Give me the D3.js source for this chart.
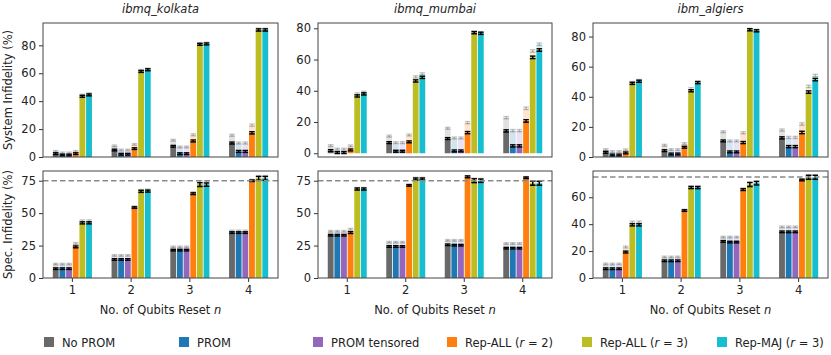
<!DOCTYPE html>
<html>
<head>
<meta charset="utf-8">
<script src="https://cdn.jsdelivr.net/npm/d3@7"></script>
<style>
  body { margin: 0; background: #fff; }
  text { font-family: "DejaVu Sans", sans-serif; }
</style>
</head>
<body>
<div id="chart"></div>
<script>
// categories / series
const groups = ["1", "2", "3", "4"];
const series = ["No PROM", "PROM", "PROM tensored", "Rep-ALL (r = 2)", "Rep-ALL (r = 3)", "Rep-MAJ (r = 3)"];
const colors = ["#696969", "#1f77b4", "#9467bd", "#ff7f0e", "#bcbd22", "#17becf"];
const devices = ["ibmq_kolkata", "ibmq_mumbai", "ibm_algiers"];

// system infidelity (%), one row per n, one value per series
const kolkataSys = [[2.4, 1.4, 1.4, 2.4, 43.5, 44.5], [5, 2, 2, 6, 61.3, 62.5], [7.7, 2.4, 2.4, 11.5, 80.7, 81], [10, 4, 4, 17.3, 91, 91]];
const kolkataSysHi = [[4, 2.9, 2.9, 4, 44.3, 45.3], [8, 5, 5, 9, 62, 63], [12, 7.2, 7.2, 15.9, 81.3, 81.5], [15.6, 10, 10, 22.8, 91.5, 91.5]];
const mumbaiSys = [[1.7, 0.4, 0.4, 2.1, 36.7, 38], [6.8, 1.3, 1.3, 7.3, 46.3, 48.6], [9.4, 1.5, 1.5, 13.2, 77.2, 76.8], [14.3, 4.7, 4.7, 20.7, 61.4, 66.1]];
const mumbaiSysHi = [[4.9, 2.6, 2.6, 4.7, 38, 39], [11, 6.8, 6.8, 11.7, 48.9, 50.8], [16, 9.8, 9.8, 19.6, 77.6, 77.2], [22.8, 14.5, 14.5, 28.8, 65.5, 69.8]];
const algiersSys = [[3.1, 1.3, 1.3, 2.7, 48.9, 50.3], [4.2, 2, 2, 6.5, 44, 49.4], [10.7, 3.4, 3.4, 9.6, 84.5, 83.8], [12.7, 6.9, 6.9, 16.3, 43.1, 51.4]];
const algiersSysHi = [[4.9, 3.6, 3.6, 4.7, 49.5, 50.8], [7.8, 4.9, 4.9, 8.9, 45.4, 49.8], [16.8, 10.7, 10.7, 16.1, 84.8, 84.2], [17.9, 13, 13, 21.9, 46.9, 54.1]];

// spectator infidelity (%)
const kolkataSpec = [[7.2, 7.2, 7.2, 24, 42.5, 42.5], [14.3, 14.3, 14.3, 54.3, 66.8, 67], [21.5, 21.5, 21.5, 65, 72, 72], [35, 35, 35, 75, 76.8, 76.8]];
const kolkataSpecHi = [[10.7, 10.7, 10.7, 26.6, 44, 44], [17.4, 17.4, 17.4, 55, 67.5, 67.8], [24, 24, 24, 65.8, 73.5, 73.5], [36.3, 36.3, 36.3, 75.4, 77.5, 77.5]];
const mumbaiSpec = [[33, 33, 33, 35, 68.6, 68.6], [24.3, 24.3, 24.3, 71.4, 76.3, 76.3], [25.6, 25.3, 25.3, 78, 75, 75], [23, 23, 23, 77.3, 73, 73]];
const mumbaiSpecHi = [[36, 36, 36, 37.6, 69, 69], [27.6, 27.6, 27.6, 71.8, 76.8, 76.8], [29, 29, 29, 78.3, 75.5, 75.5], [26.6, 26.6, 26.6, 77.6, 73.5, 73.5]];
const algiersSpec = [[6.9, 6.9, 6.9, 19.3, 39.5, 39.5], [12.8, 12.8, 12.8, 50.1, 67.2, 67.2], [27.2, 26.7, 26.7, 65.7, 69.4, 70.4], [34.3, 34.3, 34.3, 72.8, 74.8, 74.8]];
const algiersSpecHi = [[10.4, 10.4, 10.4, 23, 41.5, 41.5], [15.6, 15.6, 15.6, 50.5, 67.6, 67.6], [30.4, 30.4, 30.4, 66, 70, 71], [38, 38, 38, 73.2, 75.3, 75.3]];

// error bar half widths on the solid bars
const sysErr = [[0.6, 0.6, 0.6, 0.6, 0.7, 0.7], [0.6, 0.6, 0.6, 0.6, 0.7, 0.7], [0.6, 0.6, 0.6, 0.7, 0.7, 0.7], [0.7, 0.7, 0.7, 0.8, 0.8, 0.8]];
const specErr = [[0.6, 0.6, 0.6, 0.7, 0.8, 0.8], [0.6, 0.6, 0.6, 0.6, 0.8, 0.8], [0.6, 0.6, 0.6, 0.7, 1.5, 1.3], [0.6, 0.6, 0.6, 0.6, 1.5, 1.5]];

const sysTicks = [0, 20, 40, 60, 80];
const specTicks75 = [0, 25, 50, 75];
const specTicks60 = [0, 20, 40, 60];
const refLine = 75;

const W = 831, H = 355;
const cols = [{ x: 43, w: 235 }, { x: 318, w: 234 }, { x: 593, w: 235 }];
const rows = [{ y: 23, h: 134 }, { y: 171, h: 107 }];

const panels = [
  { r: 0, c: 0, lo: kolkataSys, hi: kolkataSysHi, err: sysErr, ylim: [0, 96], ticks: sysTicks },
  { r: 0, c: 1, lo: mumbaiSys, hi: mumbaiSysHi, err: sysErr, ylim: [-2.4, 83.4], ticks: sysTicks },
  { r: 0, c: 2, lo: algiersSys, hi: algiersSysHi, err: sysErr, ylim: [0, 89], ticks: sysTicks },
  { r: 1, c: 0, lo: kolkataSpec, hi: kolkataSpecHi, err: specErr, ylim: [0, 82.5], ticks: specTicks75 },
  { r: 1, c: 1, lo: mumbaiSpec, hi: mumbaiSpecHi, err: specErr, ylim: [0, 82.5], ticks: specTicks75 },
  { r: 1, c: 2, lo: algiersSpec, hi: algiersSpecHi, err: specErr, ylim: [0, 79.5], ticks: specTicks60 }
];

const svg = d3.select("#chart").append("svg")
  .attr("width", W)
  .attr("height", H);

panels.forEach(function (p, k) {
  const col = cols[p.c], row = rows[p.r];
  const g = svg.append("g").attr("transform", `translate(${col.x},${row.y})`);

  const x0 = d3.scaleBand().domain(groups).range([0, col.w]).paddingInner(0.32).paddingOuter(0.16);
  const x1 = d3.scaleBand().domain(series).range([0, x0.bandwidth()]);
  const y = d3.scaleLinear().domain(p.ylim).range([row.h, 0]);

  const data = [];
  groups.forEach((gn, i) => series.forEach((s, j) => {
    data.push({ g: gn, s: s, lo: p.lo[i][j], hi: p.hi[i][j], e: p.err[i][j], c: colors[j] });
  }));

  const bw = x1.bandwidth();
  const bx = d => x0(d.g) + x1(d.s);

  g.append("clipPath").attr("id", "clip" + k)
    .append("rect").attr("width", col.w).attr("height", row.h);
  const plot = g.append("g").attr("clip-path", `url(#clip${k})`);

  // light upper part
  plot.selectAll(".hi").data(data).join("rect")
    .attr("x", d => bx(d) + 0.4)
    .attr("width", bw - 0.8)
    .attr("y", d => y(d.hi))
    .attr("height", d => y(d.lo) - y(d.hi))
    .attr("fill", d => d.c)
    .attr("fill-opacity", 0.2);

  // solid part
  plot.selectAll(".lo").data(data).join("rect")
    .attr("x", d => bx(d) + 0.4)
    .attr("width", bw - 0.8)
    .attr("y", d => y(d.lo))
    .attr("height", d => y(0) - y(d.lo))
    .attr("fill", d => d.c);

  // error bars
  function errBars(key, stroke, op) {
    const eb = plot.append("g").attr("stroke", stroke).attr("stroke-opacity", op).attr("stroke-width", 1.4);
    data.forEach(d => {
      const cx = bx(d) + bw / 2, v = d[key];
      const y1 = y(v - d.e), y2 = y(v + d.e), cw = bw * 0.42;
      eb.append("line").attr("x1", cx).attr("x2", cx).attr("y1", y1).attr("y2", y2);
      eb.append("line").attr("x1", cx - cw).attr("x2", cx + cw).attr("y1", y1).attr("y2", y1);
      eb.append("line").attr("x1", cx - cw).attr("x2", cx + cw).attr("y1", y2).attr("y2", y2);
    });
  }
  errBars("hi", "#000", 0.22);
  errBars("lo", "#000", 1);

  if (p.r === 1) {
    g.append("line")
      .attr("x1", 0).attr("x2", col.w)
      .attr("y1", y(refLine)).attr("y2", y(refLine))
      .attr("stroke", "#8a8a8a").attr("stroke-width", 1.5)
      .attr("stroke-dasharray", "5.5,3");
  }

  const ya = g.append("g").call(d3.axisLeft(y).tickValues(p.ticks).tickSize(4).tickPadding(3));
  ya.select(".domain").remove();
  ya.selectAll(".tick line").attr("stroke", "#333");
  ya.selectAll("text").attr("font-size", 11.5).attr("fill", "#222").style("font-family", "DejaVu Sans, sans-serif");

  if (p.r === 1) {
    const xa = g.append("g").attr("transform", `translate(0,${row.h})`)
      .call(d3.axisBottom(x0).tickSize(4).tickPadding(4));
    xa.select(".domain").remove();
    xa.selectAll(".tick line").attr("stroke", "#333");
    xa.selectAll("text").attr("font-size", 11.5).attr("fill", "#222").style("font-family", "DejaVu Sans, sans-serif");

    const xl = svg.append("text")
      .attr("x", col.x + col.w / 2).attr("y", 314)
      .attr("text-anchor", "middle").attr("font-size", 11.5).attr("fill", "#222");
    xl.append("tspan").text("No. of Qubits Reset ");
    xl.append("tspan").attr("font-style", "italic").text("n");
  } else {
    svg.append("text")
      .attr("x", col.x + col.w / 2).attr("y", 13)
      .attr("text-anchor", "middle").attr("font-size", 11.5)
      .attr("font-style", "italic").attr("fill", "#222")
      .text(devices[p.c]);
  }

  g.append("rect")
    .attr("width", col.w).attr("height", row.h)
    .attr("fill", "none").attr("stroke", "#444").attr("stroke-width", 1);
});

// y labels
[["System Infidelity (%)", rows[0]], ["Spec. Infidelity (%)", rows[1]]].forEach(([t, row]) => {
  svg.append("text")
    .attr("transform", `translate(12,${row.y + row.h / 2}) rotate(-90)`)
    .attr("text-anchor", "middle").attr("font-size", 11.5).attr("fill", "#222")
    .text(t);
});

// legend
const legX = [44, 179, 313, 447, 582, 717];
const leg = svg.append("g");
series.forEach((s, j) => {
  const it = leg.append("g").attr("transform", `translate(${legX[j]},337)`);
  it.append("rect").attr("width", 10).attr("height", 10).attr("fill", colors[j]);
  const t = it.append("text").attr("x", 18).attr("y", 9.5).attr("font-size", 11.5).attr("fill", "#222");
  const m = s.match(/^(.*)\((r) = (\d)\)$/);
  if (m) {
    t.append("tspan").text(m[1] + "(");
    t.append("tspan").attr("font-style", "italic").text("r");
    t.append("tspan").text(" = " + m[3] + ")");
  } else {
    t.text(s);
  }
});
</script>
</body>
</html>
